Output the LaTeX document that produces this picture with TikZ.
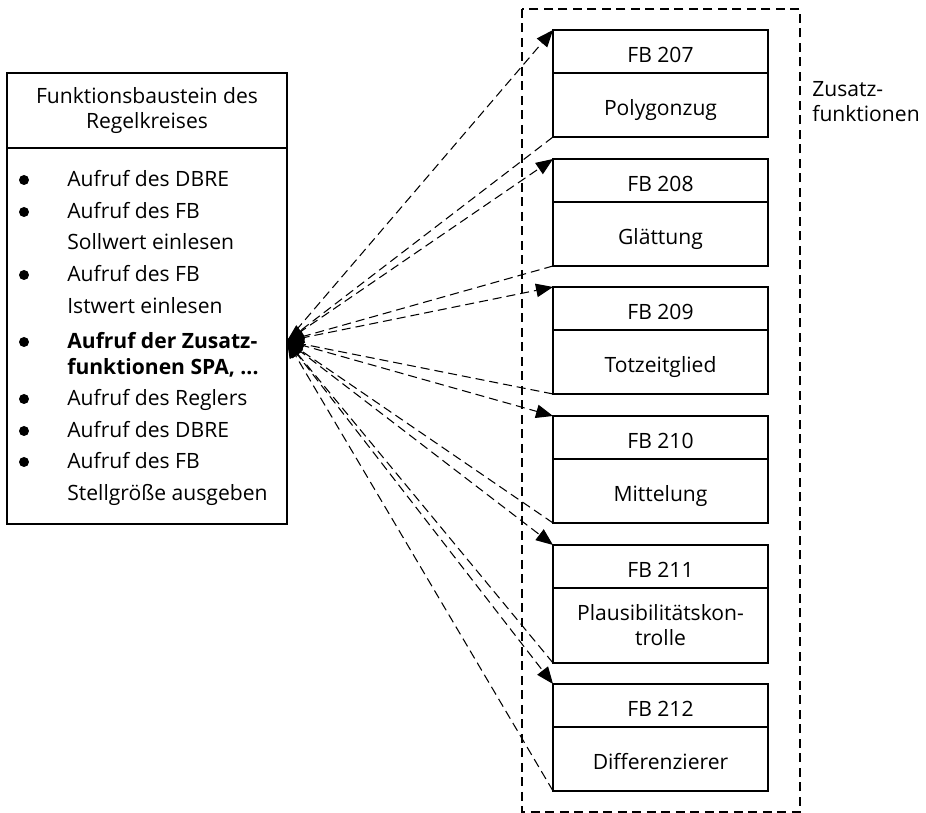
\documentclass[tikz,border=0pt]{standalone}
\usepackage{fontspec}
\setmainfont{Open Sans}
\usetikzlibrary{positioning,arrows.meta}

\tikzset{
  fbbox/.style={draw, line width=0.8pt, outer sep=0pt, minimum width=4.3cm},
  oneline/.style={text height=12.5pt, text depth=0pt},
  fbhead/.style={fbbox, oneline, minimum height=0.86cm},
  fbbody/.style={fbbox, minimum height=1.28cm, align=center},
  call/.style={line width=0.6pt, dash pattern=on 1.8mm off 1mm,
    -{Triangle[length=3.4mm,width=2.7mm]}},
  dot/.style={circle, fill, inner sep=0pt, minimum size=0.2cm}
}

\begin{document}
\begin{tikzpicture}[x=0.02cm, y=-0.02cm, font=\fontsize{12}{14.2}\selectfont]
  \useasboundingbox (0,0) rectangle (926,813);

  % calling block
  \node[fbbox, minimum width=5.6cm, minimum height=1.5cm, align=center,
    anchor=north west] (title) at (7,73) {Funktionsbaustein des\\Regelkreises};
  \node[fbbox, minimum width=5.6cm, minimum height=7.52cm, below=0pt of title] (list) {};
  \foreach \y in {180,212,275,342,399,431,462}
    \node[dot] (dot\y) at (24,\y) {};
  \foreach \y/\t in {180/Aufruf des DBRE, 212/Aufruf des FB, 243/Sollwert einlesen,
      275/Aufruf des FB, 307/Istwert einlesen, 342/{\bfseries Aufruf der Zusatz-},
      368/{\bfseries funktionen SPA, ...}, 399/Aufruf des Reglers, 431/Aufruf des DBRE,
      462/Aufruf des FB, 494/Stellgröße ausgeben}
    \node[anchor=base west, inner sep=0pt] (item\y) at ({67},{\y+7}) {\t};
  \coordinate (hub) at (list.east |- 0,341);

  % function blocks
  \draw[line width=0.8pt, dash pattern=on 1.8mm off 1.1mm] (522,9) rectangle (800,812);
  \node[anchor=west, inner sep=0pt, align=left] (zusatz) at (812,102) {Zusatz-\\funktionen};
  \foreach \n/\t/\top in {207/Polygonzug/30, 208/Glättung/159, 209/Totzeitglied/287,
      210/Mittelung/416, 212/Differenzierer/684} {
    \node[fbhead, anchor=north] (h\n) at (660.5,\top) {FB \n};
    \node[fbbody, oneline, below=0pt of h\n] (b\n) {\t};
  }
  \node[fbhead, anchor=north] (h211) at (660.5,545) {FB 211};
  \node[fbbody, minimum height=1.5cm, below=0pt of h211] (b211) {Plausibilitätskon-\\trolle};

  % calls and returns
  \foreach \n in {207,...,212} {
    \draw[call] (hub) -- (h\n.north west);
    \draw[call] (b\n.south west) -- (hub);
  }
\end{tikzpicture}
\end{document}
